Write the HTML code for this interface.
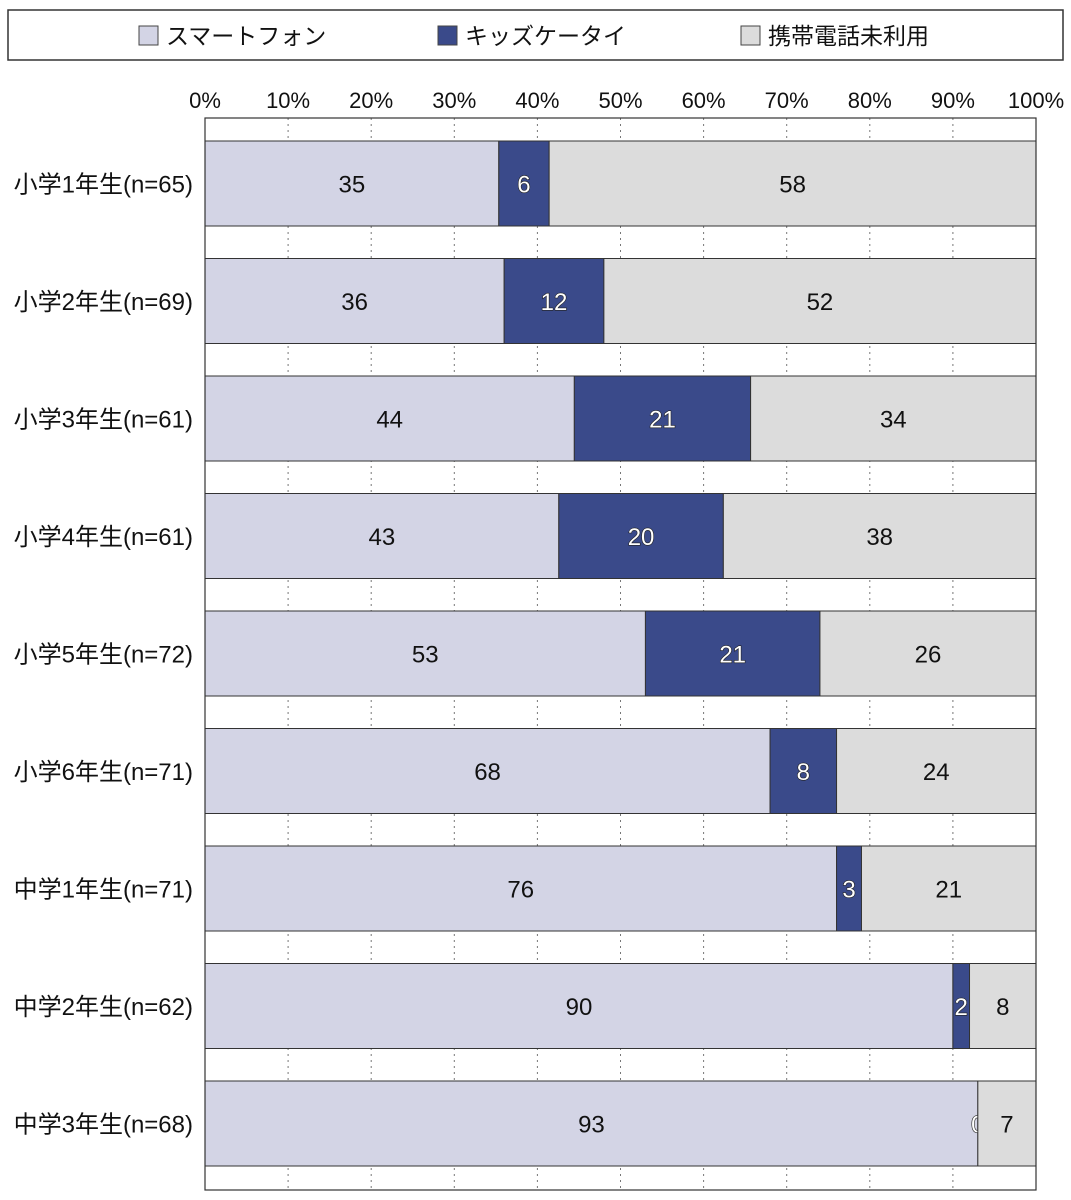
<!DOCTYPE html>
<html><head><meta charset="utf-8"><style>
html,body{margin:0;padding:0;background:#fff;}
svg{display:block;font-family:"Liberation Sans","Noto Sans CJK JP",sans-serif;}
</style></head><body>
<svg id="c" width="1071" height="1200">
<g>
<rect x="8" y="10" width="1055" height="50" fill="#fff" stroke="#333" stroke-width="1.5"/>
<g><rect x="139" y="26" width="19" height="19" fill="#d3d4e5" stroke="#444"/><text x="166" y="44" font-size="23" fill="#111">スマートフォン</text></g>
<g><rect x="438" y="26" width="19" height="19" fill="#3a4a8a" stroke="#444"/><text x="465" y="44" font-size="23" fill="#111">キッズケータイ</text></g>
<g><rect x="741" y="26" width="19" height="19" fill="#dcdcdc" stroke="#444"/><text x="768" y="44" font-size="23" fill="#111">携帯電話未利用</text></g>
</g>
<g id="grid"></g>
<g id="ticks"></g>
<g id="bars"></g>
<rect x="205" y="118" width="831" height="1072" fill="none" stroke="#333" stroke-width="1.2"/>
</svg>
<script>
const categories=["小学1年生(n=65)","小学2年生(n=69)","小学3年生(n=61)","小学4年生(n=61)","小学5年生(n=72)","小学6年生(n=71)","中学1年生(n=71)","中学2年生(n=62)","中学3年生(n=68)"];
const smartphone=[35,36,44,43,53,68,76,90,93];
const kidsPhone=[6,12,21,20,21,8,3,2,0];
const noPhone=[58,52,34,38,26,24,21,8,7];
const tickLabels=["0%","10%","20%","30%","40%","50%","60%","70%","80%","90%","100%"];
const NS="http://www.w3.org/2000/svg";
const X0=205,X1=1036,Y0=118,PITCH=117.5,BAR_TOP=23,BAR_H=85;
const xs=p=>X0+(X1-X0)*p/100;
const rowY=i=>Y0+BAR_TOP+i*PITCH;
function mk(tag,attrs,parent){const e=document.createElementNS(NS,tag);for(const k in attrs)e.setAttribute(k,attrs[k]);parent.appendChild(e);return e;}
const grid=document.getElementById('grid'),ticks=document.getElementById('ticks'),bars=document.getElementById('bars');
tickLabels.forEach((t,i)=>{
  const x=xs(i*10);
  if(i>0&&i<10){const l=mk('line',{x1:x,x2:x,y1:Y0,y2:1190,stroke:'#777','stroke-dasharray':'2,4','stroke-width':1},grid);
  
  }
  const tx=mk('text',{x:x,y:108,'font-size':22,'text-anchor':'middle',fill:'#111'},ticks);
  tx.textContent=t;
  
  
});
const series=[{v:smartphone,fill:'#d3d4e5',name:'smartphone'},{v:kidsPhone,fill:'#3a4a8a',name:'kids-phone'},{v:noPhone,fill:'#dcdcdc',name:'no-phone'}];
categories.forEach((c,i)=>{
  const y=rowY(i);
  const total=smartphone[i]+kidsPhone[i]+noPhone[i];
  const lab=mk('text',{x:193,y:y+BAR_H/2+9,'font-size':24,'text-anchor':'end',fill:'#111'},bars);
  lab.textContent=c;
  
  
  let acc=0;
  series.forEach(s=>{
    const val=s.v[i];
    const a=xs(acc/total*100),b=xs((acc+val)/total*100);
    const r=mk('rect',{x:a,y:y,width:Math.max(b-a,0),height:BAR_H,fill:s.fill,stroke:'#333','stroke-width':1},bars);
    
    
    const cx=(a+b)/2;
    const attrs={x:cx,y:y+BAR_H/2+9,'font-size':24,'text-anchor':'middle',fill:'#111'};
    if(s.name==='kids-phone'){attrs.fill='#fff';attrs.stroke='#222';attrs['stroke-width']=1.2;attrs['paint-order']='stroke';}
    const t=mk('text',attrs,bars);
    t.textContent=val;
    
    
    acc+=val;
  });
});
</script>
</body></html>
